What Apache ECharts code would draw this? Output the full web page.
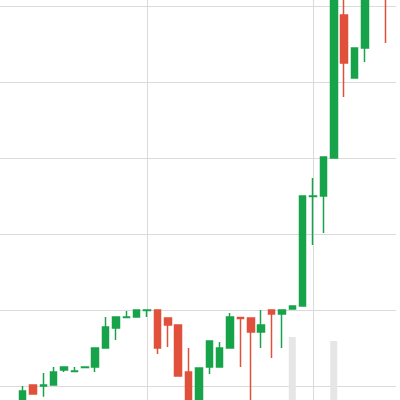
<!DOCTYPE html>
<html>
<head>
<meta charset="utf-8">
<script src="https://cdn.jsdelivr.net/npm/echarts@6/dist/echarts.min.js"></script>
<style>html,body{margin:0;padding:0;background:#fff}#c{width:400px;height:400px}</style>
</head>
<body>
<div id="c"></div>
<script>
const categories = [];
for (let i = 0; i < 41; i++) categories.push('D' + (i + 1));

// [open, close, low, high]
const candles = [
  [6.9, 7.4, 6.5, 7.6],
  [7.4, 7.1, 6.8, 7.7],
  [7.1, 7.6, 6.9, 7.9],
  [7.6, 7.3, 7.0, 8.0],
  [6.84, 9.34, 6.58, 10.0],
  [10.13, 8.95, 8.95, 10.13],
  [10.0, 10.13, 8.6, 11.71],
  [10.13, 11.84, 10.13, 12.5],
  [12.11, 12.5, 11.84, 12.5],
  [11.91, 11.97, 11.91, 12.5],
  [12.43, 12.5, 12.43, 12.5],
  [12.5, 15.0, 11.84, 15.0],
  [15.0, 17.76, 15.0, 19.08],
  [17.63, 19.08, 16.05, 19.08],
  [19.01, 19.08, 19.01, 19.87],
  [19.08, 20.0, 19.08, 20.0],
  [19.93, 20.0, 19.08, 20.0],
  [20.0, 15.0, 14.21, 20.0],
  [18.95, 18.03, 15.13, 18.95],
  [18.03, 11.32, 11.32, 18.03],
  [11.84, 7.5, 6.84, 15.0],
  [7.63, 12.37, 7.11, 12.37],
  [12.5, 15.92, 11.58, 15.92],
  [12.5, 15.0, 12.5, 15.79],
  [15.0, 19.08, 15.0, 19.61],
  [19.01, 18.88, 12.5, 19.01],
  [18.95, 17.11, 6.84, 18.95],
  [17.11, 18.03, 15.0, 20.0],
  [20.0, 19.47, 13.68, 20.0],
  [19.47, 20.0, 15.0, 20.0],
  [20.13, 20.53, 20.13, 20.53],
  [20.53, 35.0, 20.53, 35.0],
  [34.93, 35.0, 28.55, 37.37],
  [35.0, 40.13, 30.13, 40.13],
  [40.0, 63.42, 40.0, 64.74],
  [58.82, 52.5, 48.03, 62.11],
  [50.53, 54.47, 50.53, 54.47],
  [54.47, 62.11, 52.63, 62.76],
  [62.11, 66.71, 61.45, 68.03],
  [66.05, 61.18, 55.13, 67.37],
  [64.5, 62.0, 61.5, 65.5]
];

const volumes = [
  12, 15, 10, 14, 18, 12, 16, 14, 9, 8, 7, 15, 20, 14, 9, 10, 8, 25, 15, 30,
  35, 28, 22, 18, 26, 20, 30, 14, 18, 16, 79.4, 40, 30, 35, 77.2, 42, 30, 38, 40, 36, 30
];

const chart = echarts.init(document.getElementById('c'), null, {renderer: 'canvas'});
chart.setOption({
  animation: false,
  backgroundColor: '#ffffff',
  grid: [
    {left: -19, right: 4, top: -70, bottom: -62, containLabel: false, outerBoundsMode: 'none'},
    {left: -19, right: 4, top: 300, bottom: -80, containLabel: false, outerBoundsMode: 'none'}
  ],
  xAxis: [
    {
      type: 'category', gridIndex: 0, data: categories, boundaryGap: false,
      axisLine: {show: false}, axisTick: {show: false}, axisLabel: {show: false},
      splitLine: {show: true, interval: 15, lineStyle: {color: '#dadada', width: 1}}
    },
    {
      type: 'category', gridIndex: 1, data: categories, boundaryGap: false,
      axisLine: {show: false}, axisTick: {show: false}, axisLabel: {show: false},
      splitLine: {show: false}
    }
  ],
  yAxis: [
    {
      type: 'value', gridIndex: 0, min: 0, max: 70, interval: 10, scale: false,
      axisLine: {show: false}, axisTick: {show: false}, axisLabel: {show: false},
      splitLine: {show: true, lineStyle: {color: '#dadada', width: 1}}
    },
    {
      type: 'value', gridIndex: 1, min: 0, max: 100,
      axisLine: {show: false}, axisTick: {show: false}, axisLabel: {show: false},
      splitLine: {show: false}
    }
  ],
  series: [
    {
      type: 'bar', xAxisIndex: 1, yAxisIndex: 1, data: volumes,
      barWidth: 7, itemStyle: {color: '#e6e6e6'}, z: 1
    },
    {
      type: 'candlestick', xAxisIndex: 0, yAxisIndex: 0, data: candles,
      barWidth: 7, z: 3,
      itemStyle: {
        color: '#17a34a', color0: '#e0503b',
        borderColor: '#17a34a', borderColor0: '#e0503b', borderWidth: 1.5
      }
    }
  ]
});
</script>
</body>
</html>
